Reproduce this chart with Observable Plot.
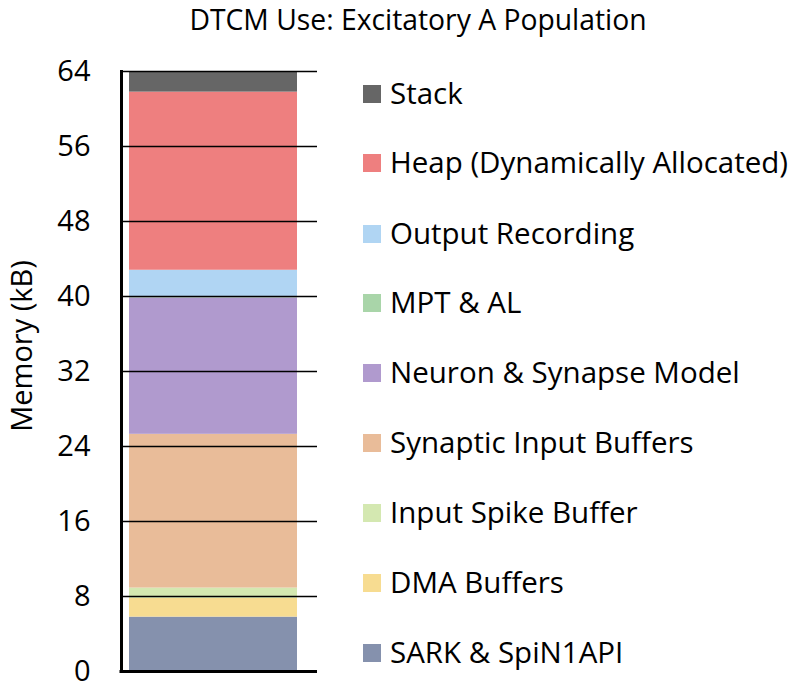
<!DOCTYPE html>
<html>
<head>
<meta charset="utf-8">
<script src="https://cdn.jsdelivr.net/npm/d3@7"></script>
<script src="https://cdn.jsdelivr.net/npm/@observablehq/plot@0.6"></script>
<style>
  body { margin: 0; background: #fff; }
  #wrap { position: relative; width: 790px; height: 685px; font-family: "Open Sans", sans-serif; color: #000; }
  #title { position: absolute; top: 0px; left: 0; width: 836px; text-align: center; font-size: 28.3px; line-height: 38px; white-space: nowrap; }
  #chart { position: absolute; top: 38px; left: 0; }
  #legend { position: absolute; left: 363px; top: 0; }
  #ylabel { position: absolute; left: 4px; top: 346px; width: 34px; height: 0; }
  #ylabel span { position: absolute; left: 17px; top: 0; transform: translate(-50%, -50%) rotate(-90deg); font-size: 29px; line-height: 34px; white-space: nowrap; }
  .row { position: absolute; left: 0; white-space: nowrap; font-size: 29.5px; line-height: 40px; height: 40px; display: flex; align-items: center; }
  .sw { width: 18px; height: 18px; margin-right: 9px; margin-top: 2px; }
</style>
</head>
<body>
<div id="wrap">
  <div id="title">DTCM Use: Excitatory A Population</div>
  <div id="chart"></div>
  <div id="ylabel"><span>Memory (kB)</span></div>
  <div id="legend"></div>
</div>
<script>
const categories = ["SARK & SpiN1API","DMA Buffers","Input Spike Buffer","Synaptic Input Buffers","Neuron & Synapse Model","MPT & AL","Output Recording","Heap (Dynamically Allocated)","Stack"];
const values = [5.8, 2.0, 1.1, 16.4, 14.55, 0.15, 2.8, 19.0, 2.2];
const colors = ["#8591ad","#f7dc91","#d4e8b1","#e9bc99","#b09ace","#a9d5a9","#b0d5f3","#ee7f7f","#666666"];
const yTicks = [0, 8, 16, 24, 32, 40, 48, 56, 64];

const data = categories.map((c, i) => ({bar: "A", category: c, value: values[i]}));

const chart = Plot.plot({
  width: 790,
  height: 647,
  marginTop: 33,
  marginBottom: 14,
  marginLeft: 121,
  marginRight: 483,
  style: {fontFamily: "Open Sans, sans-serif", fontSize: "29px", color: "#000", background: "#fff", overflow: "visible"},
  x: {axis: null, domain: ["A"], padding: 0},
  y: {domain: [0, 64]},
  color: {domain: categories, range: colors},
  marks: [
    Plot.barY(data, {x: "bar", y: "value", fill: "category", insetLeft: 8, insetRight: 10}),
    Plot.ruleY(yTicks.slice(1), {stroke: "#000", strokeWidth: 1.4, insetRight: -10}),
    Plot.frame({anchor: "left", stroke: "#000", strokeWidth: 3}),
    Plot.ruleY([0], {stroke: "#000", strokeWidth: 3, insetLeft: -1.5, insetRight: -10}),
    Plot.axisY({ticks: yTicks, tickSize: 0, tickPadding: 31, fontSize: 29, label: null})
  ]
});
document.getElementById("chart").appendChild(chart);

const legend = document.getElementById("legend");
const rowCenters = [652, 582, 512, 442, 372, 302, 233, 162, 93];
categories.forEach((c, i) => {
  const row = document.createElement("div");
  row.className = "row";
  row.style.top = (rowCenters[i] - 20) + "px";
  const sw = document.createElement("div");
  sw.className = "sw";
  sw.style.background = colors[i];
  const t = document.createElement("span");
  t.textContent = c;
  row.appendChild(sw);
  row.appendChild(t);
  legend.appendChild(row);
});
</script>
</body>
</html>
